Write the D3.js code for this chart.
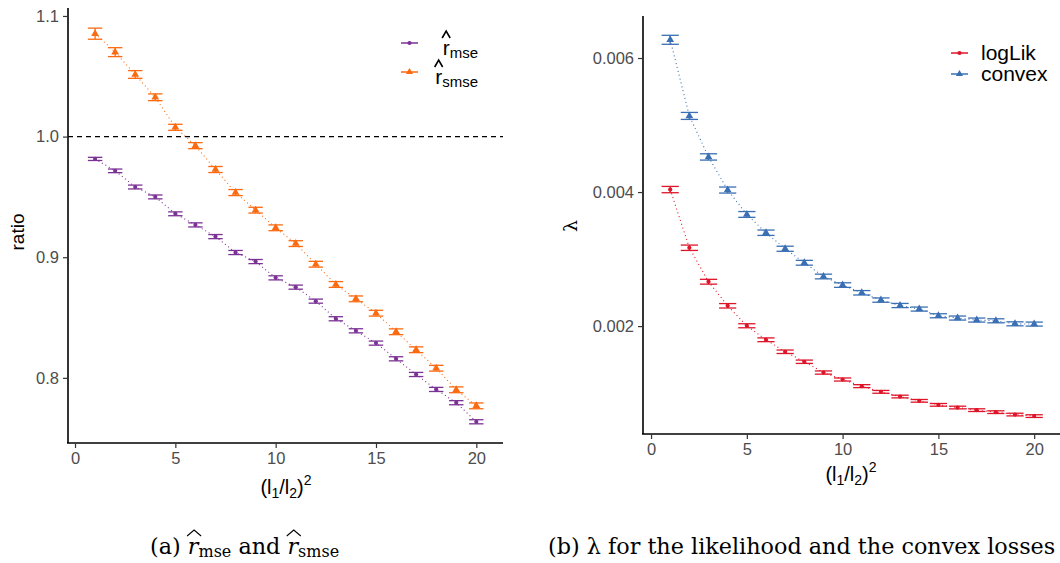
<!DOCTYPE html>
<html><head><meta charset="utf-8">
<script src="https://cdn.jsdelivr.net/npm/d3@7"></script>
<style>
body{margin:0;background:#fff;}
svg{display:block;font-family:"Liberation Sans",Arial,sans-serif;}
</style></head>
<body><svg id="c" width="1060" height="563"></svg>
<script>
// ---------- data ----------
const xs = [1,2,3,4,5,6,7,8,9,10,11,12,13,14,15,16,17,18,19,20];
const rmse  = [0.9815,0.9716,0.9582,0.9500,0.9360,0.9268,0.9171,0.9039,0.8964,0.8829,0.8752,0.8636,0.8490,0.8390,0.8288,0.8158,0.8028,0.7904,0.7794,0.7636];
const rmseErr = [0.0013,0.0015,0.0016,0.0016,0.0016,0.0017,0.0017,0.0017,0.0017,0.0017,0.0017,0.0017,0.0017,0.0017,0.0017,0.0017,0.0017,0.0017,0.0017,0.0017];
const rsmse = [1.0853,1.0700,1.0515,1.0326,1.0077,0.9925,0.9727,0.9536,0.9390,0.9244,0.9113,0.8942,0.8774,0.8655,0.8536,0.8382,0.8233,0.8080,0.7901,0.7768];
const rsmseErr = [0.0046,0.0037,0.0032,0.0028,0.0025,0.0025,0.0025,0.0025,0.0024,0.0024,0.0024,0.0024,0.0024,0.0024,0.0024,0.0024,0.0024,0.0024,0.0024,0.0024];
const logLik = [0.004037,0.003169,0.002662,0.002303,0.002005,0.001796,0.001617,0.001468,0.001307,0.001203,0.001104,0.001019,0.000949,0.000885,0.000825,0.000785,0.000746,0.000716,0.000680,0.000657];
const logLikErr = [0.000047,0.00004,0.000036,0.000033,0.00003,0.000028,0.000026,0.000025,0.000024,0.000023,0.000022,0.000021,0.00002,0.00002,0.00002,0.00002,0.00002,0.00002,0.00002,0.00002];
const convex = [0.006272,0.005136,0.004524,0.004030,0.003666,0.003393,0.003154,0.002945,0.002740,0.002612,0.002497,0.002388,0.002307,0.002254,0.002154,0.002120,0.002090,0.002079,0.002034,0.002030];
const convexErr = [0.000067,0.000052,0.000047,0.000045,0.000043,0.00004,0.000038,0.000036,0.000035,0.000034,0.000033,0.000032,0.000031,0.00003,0.00003,0.00003,0.00003,0.00003,0.00003,0.00003];
const xTicks = [0,5,10,15,20];
const leftYTicks = [0.8,0.9,1.0,1.1];
const rightYTicks = [0.002,0.004,0.006];
const refLine = 1.0;

const colPurple = "#7b3294", colOrange = "#fb6a10", colRed = "#de1429", colBlue = "#3a6fb3";
const svg = d3.select("#c");

function panel(opt){
  const g = svg.append("g");
  const x = d3.scaleLinear().domain(opt.xd).range(opt.xr);
  const y = d3.scaleLinear().domain(opt.yd).range(opt.yr);
  if(opt.ref!==undefined){
    g.append("line").attr("x1",opt.xr[0]).attr("x2",opt.xr[1])
      .attr("y1",y(opt.ref)).attr("y2",y(opt.ref))
      .attr("stroke","#000").attr("stroke-width",1.1).attr("stroke-dasharray","5,4");
  }
  opt.series.forEach(s=>{
    const pts = xs.map((v,i)=>({x:v,y:s.vals[i],e:s.err[i]}));
    g.append("path").datum(pts)
      .attr("d",d3.line().x(d=>x(d.x)).y(d=>y(d.y)))
      .attr("fill","none").attr("stroke",s.color).attr("stroke-width",1.1)
      .attr("stroke-dasharray","1,3");
    const hw = opt.barW/2;
    const eb = g.append("g").attr("stroke",s.color).attr("stroke-width",1.3).attr("fill","none");
    pts.forEach(d=>{
      eb.append("line").attr("x1",x(d.x)).attr("x2",x(d.x)).attr("y1",y(d.y-d.e)).attr("y2",y(d.y+d.e));
      eb.append("line").attr("x1",x(d.x-hw)).attr("x2",x(d.x+hw)).attr("y1",y(d.y-d.e)).attr("y2",y(d.y-d.e));
      eb.append("line").attr("x1",x(d.x-hw)).attr("x2",x(d.x+hw)).attr("y1",y(d.y+d.e)).attr("y2",y(d.y+d.e));
    });
    const sym = d3.symbol().type(s.shape==="tri"?d3.symbolTriangle:d3.symbolCircle).size(s.shape==="tri"?26:14);
    g.selectAll(null).data(pts).enter().append("path")
      .attr("d",sym).attr("transform",d=>`translate(${x(d.x)},${y(d.y)})`)
      .attr("fill",s.color);
  });
  const xa = g.append("g").attr("transform",`translate(0,${opt.yr[0]})`)
    .call(d3.axisBottom(x).tickValues(xTicks).tickSize(5).tickPadding(4).tickFormat(d3.format("d")));
  const ya = g.append("g").attr("transform",`translate(${opt.xr[0]},0)`)
    .call(d3.axisLeft(y).tickValues(opt.yTicks).tickSize(5).tickPadding(4).tickFormat(opt.yFmt));
  [xa,ya].forEach(a=>{
    a.select(".domain").attr("stroke","#000").attr("stroke-width",1.6);
    a.selectAll(".tick line").attr("stroke","#333").attr("stroke-width",1.2);
    a.selectAll(".tick text").attr("fill","#4d4d4d").style("font-size","16.5px").style("font-family","Liberation Sans, Arial, sans-serif");
  });
  ya.select(".domain").attr("d",`M0,${opt.yr[0]}V${opt.yr[1]}`);
  xa.select(".domain").attr("d",`M${opt.xr[0]-1},0H${opt.xr[1]}`);
  return {x,y,g};
}

panel({xd:[-0.35,21.33], xr:[68,503], yd:[0.746,1.1066], yr:[443,8],
  yTicks:leftYTicks, yFmt:d3.format(".1f"), ref:refLine, barW:0.72,
  series:[{vals:rmse,err:rmseErr,color:colPurple,shape:"dot"},
          {vals:rsmse,err:rsmseErr,color:colOrange,shape:"tri"}]});

panel({xd:[-0.42,21.4], xr:[643,1061], yd:[0.00039,0.006627], yr:[434,16],
  yTicks:rightYTicks, yFmt:d3.format(".3f"), barW:0.9,
  series:[{vals:logLik,err:logLikErr,color:colRed,shape:"dot"},
          {vals:convex,err:convexErr,color:colBlue,shape:"tri"}]});

// axis titles
svg.append("text").attr("transform","translate(24,232) rotate(-90)").attr("text-anchor","middle")
  .style("font-size","19px").text("ratio");
svg.append("text").attr("transform","translate(577,226) rotate(-90)").attr("text-anchor","middle")
  .style("font-size","19px").style("font-family","DejaVu Serif, serif").text("λ");

function xTitle(cx,by){
  const t = svg.append("text").attr("x",cx).attr("y",by).attr("text-anchor","middle").style("font-size","20px");
  t.append("tspan").text("(l");
  t.append("tspan").attr("dy",4).style("font-size","14px").text("1");
  t.append("tspan").attr("dy",-4).text("/l");
  t.append("tspan").attr("dy",4).style("font-size","14px").text("2");
  t.append("tspan").attr("dy",-4).text(")");
  t.append("tspan").attr("dy",-9).style("font-size","14px").text("2");
}
xTitle(286,494);
xTitle(851,481);

function hat(cx,top,w,h,sw){
  svg.append("path").attr("d",`M${cx-w/2},${top+h}L${cx},${top}L${cx+w/2},${top+h}`)
    .attr("fill","none").attr("stroke","#000").attr("stroke-width",sw);
}

function legKey(x1,x2,yy,color,shape){
  svg.append("line").attr("x1",x1).attr("x2",x2).attr("y1",yy).attr("y2",yy).attr("stroke",color).attr("stroke-width",1.5);
  const sym = d3.symbol().type(shape==="tri"?d3.symbolTriangle:d3.symbolCircle).size(shape==="tri"?22:14);
  svg.append("path").attr("d",sym).attr("transform",`translate(${(x1+x2)/2},${yy})`).attr("fill",color);
}
legKey(401,418,43,colPurple,"dot");
legKey(401,418,72,colOrange,"tri");
function hatLabel(xr,by,sub){
  const t = svg.append("text").attr("x",xr).attr("y",by).style("font-size","21px");
  t.append("tspan").text("r");
  t.append("tspan").attr("dy",3).style("font-size","15px").text(sub);
  const bb = t.node().getBBox();
  t.attr("x", xr - bb.width);
  const e = t.node().getExtentOfChar(0);
  hat(e.x + e.width/2, by-24, 8, 7, 1.6);
}
hatLabel(478,55,"mse");
hatLabel(478,84,"smse");

legKey(951,968,53,colRed,"dot");
legKey(951,968,74,colBlue,"tri");
svg.append("text").attr("x",981).attr("y",60).style("font-size","21px").text("logLik");
svg.append("text").attr("x",981).attr("y",81).style("font-size","21px").text("convex");

// captions
const capFont = "DejaVu Serif, serif";
const capA = svg.append("text").attr("x",150).attr("y",554).style("font-family",capFont).style("font-size","22.3px");
capA.append("tspan").text("(a) ");
capA.append("tspan").style("font-style","italic").text("r");
capA.append("tspan").attr("dy",3).style("font-size","16px").text("mse");
capA.append("tspan").attr("dy",-3).text(" and ");
capA.append("tspan").style("font-style","italic").text("r");
capA.append("tspan").attr("dy",3).style("font-size","16px").text("smse");
const capNode = capA.node();
[4, 13].forEach(idx=>{
  const e = capNode.getExtentOfChar(idx);
  hat(e.x + e.width/2 + 1, 530, 14, 6, 1.1);
});
svg.append("text").attr("x",548).attr("y",554).style("font-family",capFont).style("font-size","22.3px")
  .text("(b) λ for the likelihood and the convex losses");
</script></body></html>
